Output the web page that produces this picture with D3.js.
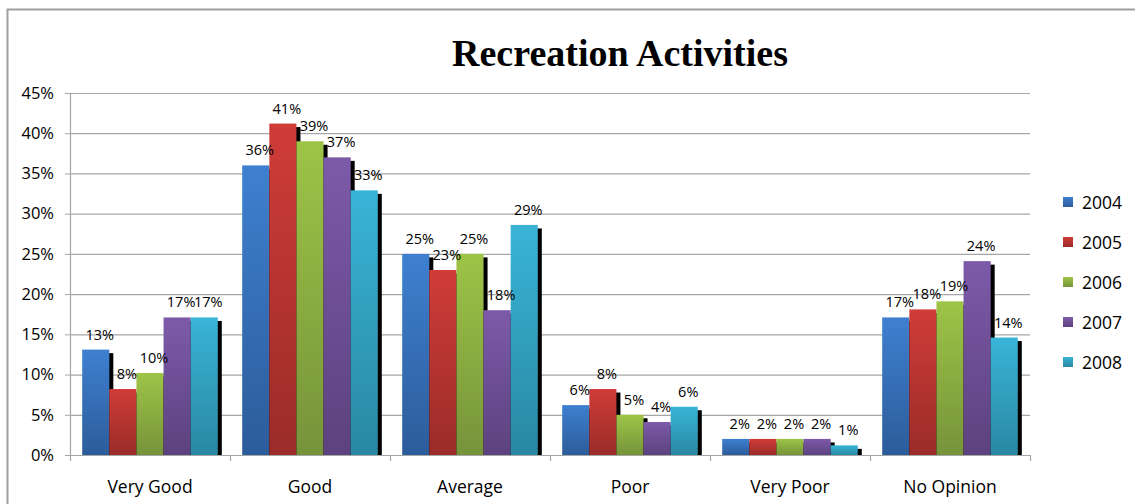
<!DOCTYPE html>
<html>
<head>
<meta charset="utf-8">
<script src="https://cdn.jsdelivr.net/npm/d3@7"></script>
<style>
  body { margin: 0; background: #fff; }
  svg { display: block; }
</style>
</head>
<body>
<div id="chart"></div>
<script>
const categories = ["Very Good", "Good", "Average", "Poor", "Very Poor", "No Opinion"];
const years = ["2004", "2005", "2006", "2007", "2008"];

// values per year, one entry per category (percent)
const values2004 = [13.1, 36.0, 25.0, 6.2, 2.0, 17.1];
const values2005 = [8.2, 41.2, 23.0, 8.2, 2.0, 18.1];
const values2006 = [10.2, 39.0, 25.0, 5.0, 2.0, 19.1];
const values2007 = [17.1, 37.0, 18.0, 4.1, 2.0, 24.1];
const values2008 = [17.1, 32.9, 28.6, 6.0, 1.2, 14.6];

const labels2004 = ["13%", "36%", "25%", "6%", "2%", "17%"];
const labels2005 = ["8%", "41%", "23%", "8%", "2%", "18%"];
const labels2006 = ["10%", "39%", "25%", "5%", "2%", "19%"];
const labels2007 = ["17%", "37%", "18%", "4%", "2%", "24%"];
const labels2008 = ["17%", "33%", "29%", "6%", "1%", "14%"];

const yTicks = [0, 5, 10, 15, 20, 25, 30, 35, 40, 45];

const colorsTop = ["#3e80d0", "#d03c38", "#9ec447", "#7d5aa9", "#39b4d7"];
const colorsBottom = ["#2c5c9a", "#9a2c29", "#76933a", "#5c427f", "#2988a2"];

const seriesValues = [values2004, values2005, values2006, values2007, values2008];
const seriesLabels = [labels2004, labels2005, labels2006, labels2007, labels2008];

const width = 1135, height = 504;
const margin = { left: 70, right: 105, top: 93, bottom: 49 };
const font = "'Open Sans', 'DejaVu Sans', sans-serif";

const svg = d3.select("#chart").append("svg")
    .attr("width", width)
    .attr("height", height);

const defs = svg.append("defs");
years.forEach((y, i) => {
    const g = defs.append("linearGradient")
        .attr("id", "grad" + i)
        .attr("x1", 0).attr("y1", 0).attr("x2", 0).attr("y2", 1);
    g.append("stop").attr("offset", "0%").attr("stop-color", colorsTop[i]);
    g.append("stop").attr("offset", "100%").attr("stop-color", colorsBottom[i]);
});

// chart border
svg.append("rect")
    .attr("x", 7.5).attr("y", 9.5)
    .attr("width", 1140).attr("height", 510)
    .attr("fill", "none")
    .attr("stroke", "#a0a0a0")
    .attr("stroke-width", 2);

const x0 = d3.scaleBand()
    .domain(categories)
    .range([margin.left, width - margin.right])
    .paddingInner(0)
    .paddingOuter(0);

const x1 = d3.scaleBand()
    .domain(years)
    .range([0, x0.bandwidth()])
    .paddingOuter(0.45)
    .paddingInner(0);

const y = d3.scaleLinear()
    .domain([0, 45])
    .range([height - margin.bottom, margin.top]);

// gridlines
svg.append("g")
    .selectAll("line")
    .data(yTicks.slice(1))
    .join("line")
    .attr("x1", margin.left)
    .attr("x2", width - margin.right)
    .attr("y1", d => y(d) + 0.5)
    .attr("y2", d => y(d) + 0.5)
    .attr("stroke", "#a6a6a6")
    .attr("stroke-width", 1.2);

// y axis
const yAxis = svg.append("g")
    .attr("transform", `translate(${margin.left},0)`)
    .call(d3.axisLeft(y).tickValues(yTicks).tickFormat(d => d + "%").tickSize(5).tickSizeOuter(0));
yAxis.select(".domain").attr("stroke", "#a6a6a6").attr("stroke-width", 1.2);
yAxis.selectAll(".tick line").attr("stroke", "#a6a6a6");
yAxis.selectAll(".tick text")
    .attr("x", -16)
    .attr("fill", "#000")
    .style("font-family", font)
    .style("font-size", "16.5px");

// x axis line and ticks at category boundaries
const boundaries = categories.map(c => x0(c)).concat([x0(categories[categories.length - 1]) + x0.bandwidth()]);
svg.append("line")
    .attr("x1", margin.left).attr("x2", width - margin.right)
    .attr("y1", y(0) + 0.5).attr("y2", y(0) + 0.5)
    .attr("stroke", "#a6a6a6").attr("stroke-width", 1.2);
svg.append("g")
    .selectAll("line")
    .data(boundaries)
    .join("line")
    .attr("x1", d => d + 0.5).attr("x2", d => d + 0.5)
    .attr("y1", y(0)).attr("y2", y(0) + 6)
    .attr("stroke", "#a6a6a6").attr("stroke-width", 1.2);

svg.append("g")
    .selectAll("text")
    .data(categories)
    .join("text")
    .attr("x", d => x0(d) + x0.bandwidth() / 2)
    .attr("y", height - 11)
    .attr("text-anchor", "middle")
    .style("font-family", font)
    .style("font-size", "17.5px")
    .text(d => d);

// flatten bars
const bars = [];
categories.forEach((c, ci) => {
    years.forEach((yr, si) => {
        bars.push({ cat: c, year: yr, si: si, value: seriesValues[si][ci], label: seriesLabels[si][ci] });
    });
});

// shadows first
svg.append("g")
    .selectAll("rect")
    .data(bars)
    .join("rect")
    .attr("x", d => x0(d.cat) + x1(d.year) + 4)
    .attr("y", d => y(d.value) + 3.5)
    .attr("width", x1.bandwidth())
    .attr("height", d => y(0) - y(d.value) - 3.5)
    .attr("fill", "#000");

svg.append("g")
    .selectAll("rect")
    .data(bars)
    .join("rect")
    .attr("x", d => x0(d.cat) + x1(d.year))
    .attr("y", d => y(d.value))
    .attr("width", x1.bandwidth())
    .attr("height", d => y(0) - y(d.value))
    .attr("fill", d => `url(#grad${d.si})`);

// data labels
svg.append("g")
    .selectAll("text")
    .data(bars)
    .join("text")
    .attr("x", d => x0(d.cat) + x1(d.year) + x1.bandwidth() / 2 + 4)
    .attr("y", d => y(d.value) - 10)
    .attr("text-anchor", "middle")
    .style("font-family", font)
    .style("font-size", "14.5px")
    .text(d => d.label);

// title
svg.append("text")
    .attr("x", 620)
    .attr("y", 66)
    .attr("text-anchor", "middle")
    .style("font-family", "'Liberation Serif', 'Times New Roman', serif")
    .style("font-weight", "bold")
    .style("font-size", "38px")
    .text("Recreation Activities");

// legend
const legend = svg.append("g")
    .selectAll("g")
    .data(years)
    .join("g")
    .attr("transform", (d, i) => `translate(1063,${197 + i * 40})`);
legend.append("rect")
    .attr("width", 10).attr("height", 10)
    .attr("fill", (d, i) => `url(#grad${i})`);
legend.append("text")
    .attr("x", 19).attr("y", 12)
    .style("font-family", font)
    .style("font-size", "17.5px")
    .text(d => d);
</script>
</body>
</html>
